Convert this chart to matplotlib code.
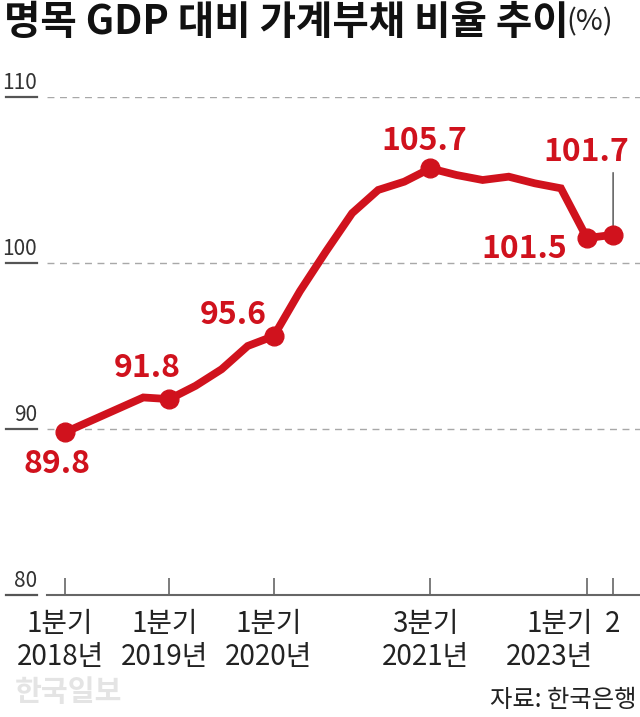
import matplotlib
matplotlib.use("Agg")
import matplotlib.pyplot as plt
from matplotlib.transforms import blended_transform_factory, offset_copy

plt.rcParams['font.family'] = ['Noto Sans CJK KR', 'DejaVu Sans']

# ---- data ----
quarters = ["2018Q1", "2018Q2", "2018Q3", "2018Q4",
            "2019Q1", "2019Q2", "2019Q3", "2019Q4",
            "2020Q1", "2020Q2", "2020Q3", "2020Q4",
            "2021Q1", "2021Q2", "2021Q3", "2021Q4",
            "2022Q1", "2022Q2", "2022Q3", "2022Q4",
            "2023Q1", "2023Q2"]
values = [89.8, 90.5, 91.2, 91.9,
          91.8, 92.6, 93.6, 95.0,
          95.6, 98.3, 100.7, 103.0,
          104.4, 104.9, 105.7, 105.3,
          105.0, 105.2, 104.8, 104.5,
          101.5, 101.7]
marked_idx = [0, 4, 8, 14, 20, 21]
label_offsets_px = {0: (-8, -32), 4: (-22, 31), 8: (-41, 21), 14: (-6, 27),
                    20: (-63, -11), 21: (-27, 83)}
tick_idx = [0, 4, 8, 14, 20, 21]
tick_labels = ["1분기\n2018년", "1분기\n2019년", "1분기\n2020년",
               "3분기\n2021년", "1분기\n2023년", "2"]
y_ticks = [80, 90, 100, 110]

RED = '#d0121d'

W, H = 640, 717
fig = plt.figure(figsize=(W / 100, H / 100), dpi=100)
ax_left, ax_right, ax_top, ax_bottom = 47, 640, 97, 595
ax = fig.add_axes([ax_left / W, 1 - ax_bottom / H, (ax_right - ax_left) / W, (ax_bottom - ax_top) / H])

x = list(range(len(quarters)))
ax.plot(x, values, color=RED, lw=5.6, solid_joinstyle='miter', zorder=3)
ax.plot([x[i] for i in marked_idx], [values[i] for i in marked_idx], 'o',
        color=RED, ms=13.5, zorder=4)

ax.set_xlim(-0.69, 22.03)
ax.set_ylim(80, 110)

# gridlines
for yv in y_ticks[1:]:
    ax.axhline(yv, color='#a8a8a8', lw=1.0, ls=(0, (5, 4)), zorder=1)

# y labels with underline
ytrans = blended_transform_factory(fig.transFigure, ax.transData)
ytrans_up = offset_copy(ytrans, fig=fig, x=0, y=3, units='dots')
for yv in y_ticks:
    ax.text(37 / W, yv, f"{yv}", transform=ytrans_up, ha='right', va='bottom',
            fontsize=15, fontweight='light', color='#333333', clip_on=False)
    ax.plot([6 / W, 37 / W], [yv, yv], transform=ytrans, color='#555555',
            lw=1.6, clip_on=False)

# spines / ticks
for s in ['top', 'right', 'left']:
    ax.spines[s].set_visible(False)
ax.spines['bottom'].set_color('#666666')
ax.spines['bottom'].set_linewidth(1.5)
ax.set_yticks([])
ax.set_xticks(tick_idx)
ax.set_xticklabels([])
ax.tick_params(axis='x', direction='in', length=12, width=1.2, color='#666666')

# x tick labels
xtrans = ax.get_xaxis_transform()
for i, lab in zip(tick_idx, tick_labels):
    if lab == "2":
        ax.annotate(lab, (i, 0), xycoords=xtrans, xytext=(-1, -14),
                    textcoords='offset pixels', ha='center', va='top',
                    fontsize=20, color='#222222')
    elif i == 20:
        ax.annotate(lab, (i, 0), xycoords=xtrans, xytext=(6, -14),
                    textcoords='offset pixels', ha='right', va='top',
                    fontsize=20, color='#222222', multialignment='right',
                    linespacing=1.15)
    else:
        ax.annotate(lab, (i, 0), xycoords=xtrans, xytext=(-5, -14),
                    textcoords='offset pixels', ha='center', va='top',
                    fontsize=20, color='#222222', multialignment='center',
                    linespacing=1.15)

# data labels
for i in marked_idx:
    dx, dy = label_offsets_px[i]
    ax.annotate(f"{values[i]:.1f}", (x[i], values[i]), xytext=(dx, dy),
                textcoords='offset pixels', ha='center', va='center',
                fontsize=23, fontweight='bold', color=RED, zorder=5)

# connector for last label
ax.annotate("", (x[21], values[21]), xytext=(0, 62), textcoords='offset pixels',
            arrowprops=dict(arrowstyle='-', color='#666666', lw=1.2,
                            shrinkA=0, shrinkB=0), zorder=2)

# title
fig.text(4 / W, 1 - 2 / H, "명목 GDP 대비 가계부채 비율 추이", ha='left', va='top',
         fontsize=28.5, fontweight='heavy', color='#111111')
fig.text(566 / W, 1 - 7 / H, "(%)", ha='left', va='top', fontsize=21,
         fontweight='light', color='#222222')

# watermark and source
fig.text(15 / W, 1 - 692 / H, "한국일보", ha='left', va='center', fontsize=21,
         fontweight='bold', color='#e4e4e4')
fig.text(637 / W, 1 - 700 / H, "자료: 한국은행", ha='right', va='center',
         fontsize=17.5, color='#222222')

fig.savefig("out.png", dpi=100)
